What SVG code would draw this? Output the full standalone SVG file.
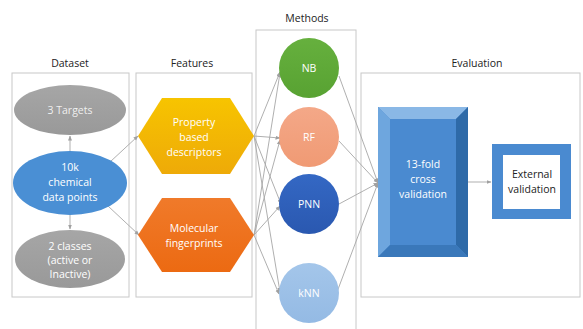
<svg xmlns="http://www.w3.org/2000/svg" width="583" height="329" viewBox="0 0 583 329">
<style>
.panel{fill:#fff;stroke:#c8c8c8;stroke-width:1}
.title{font-family:"Open Sans","Liberation Sans",sans-serif;font-size:10.5px;fill:#222;text-anchor:middle}
.lbl{font-family:"Open Sans","Liberation Sans",sans-serif;font-size:10.5px;fill:#fff;text-anchor:middle}
.lbld{font-family:"Open Sans","Liberation Sans",sans-serif;font-size:10.5px;fill:#222;text-anchor:middle}
.c{stroke:#a6a6a6;stroke-width:0.9;fill:none;marker-end:url(#ah)}
</style>
<defs>
<marker id="ah" viewBox="0 0 10 10" refX="9" refY="5" markerWidth="5" markerHeight="5" orient="auto" markerUnits="userSpaceOnUse">
<path d="M0,1 L10,5 L0,9 z" fill="#a0a0a0"/>
</marker>
<linearGradient id="gy" x1="0" y1="0" x2="0" y2="1"><stop offset="0" stop-color="#f7c400"/><stop offset="1" stop-color="#eeaa08"/></linearGradient>
<linearGradient id="go" x1="0" y1="0" x2="0" y2="1"><stop offset="0" stop-color="#f07a2a"/><stop offset="1" stop-color="#ec6a12"/></linearGradient>
<linearGradient id="gg" x1="0" y1="0" x2="0" y2="1"><stop offset="0" stop-color="#66b03e"/><stop offset="1" stop-color="#58a232"/></linearGradient>
<linearGradient id="gr" x1="0" y1="0" x2="0" y2="1"><stop offset="0" stop-color="#f4a888"/><stop offset="1" stop-color="#f09a74"/></linearGradient>
<linearGradient id="gp" x1="0" y1="0" x2="0" y2="1"><stop offset="0" stop-color="#3468c4"/><stop offset="1" stop-color="#2a58b0"/></linearGradient>
<linearGradient id="gk" x1="0" y1="0" x2="0" y2="1"><stop offset="0" stop-color="#a4c6ea"/><stop offset="1" stop-color="#94bae4"/></linearGradient>
<linearGradient id="ggr" x1="0" y1="0" x2="0" y2="1"><stop offset="0" stop-color="#a6a6a6"/><stop offset="1" stop-color="#999"/></linearGradient>
</defs>

<g id="panels">
<rect class="panel" x="12" y="73" width="117" height="224"/>
<rect class="panel" x="136" y="73" width="116" height="224"/>
<rect class="panel" x="256" y="30" width="100" height="305"/>
<rect class="panel" x="361" y="73" width="219" height="224"/>
<text class="title" x="70" y="67">Dataset</text>
<text class="title" x="192" y="67">Features</text>
<text class="title" x="307" y="22">Methods</text>
<text class="title" x="477" y="67">Evaluation</text>
</g>

<g id="connectors">
<line class="c" x1="70" y1="151" x2="70" y2="136"/>
<line class="c" x1="70" y1="215" x2="70" y2="229"/>
<line class="c" x1="110" y1="162" x2="138" y2="136"/>
<line class="c" x1="108" y1="206" x2="139" y2="235"/>
<line class="c" x1="254" y1="136" x2="280" y2="72"/>
<line class="c" x1="254" y1="136" x2="280" y2="138"/>
<line class="c" x1="254" y1="136" x2="281" y2="204"/>
<line class="c" x1="254" y1="136" x2="280" y2="292"/>
<line class="c" x1="254" y1="235" x2="280" y2="73"/>
<line class="c" x1="254" y1="235" x2="280" y2="140"/>
<line class="c" x1="254" y1="235" x2="280" y2="206"/>
<line class="c" x1="254" y1="235" x2="279" y2="294"/>
<line class="c" x1="339" y1="76" x2="378" y2="183"/>
<line class="c" x1="339" y1="141" x2="378" y2="183"/>
<line class="c" x1="339" y1="204" x2="378" y2="183"/>
<line class="c" x1="337" y1="292" x2="378" y2="183"/>
<line class="c" x1="468" y1="182" x2="491" y2="182"/>
</g>

<g id="targets">
<ellipse cx="70" cy="110" rx="56" ry="25" fill="url(#ggr)"/>
<text class="lbl" x="70" y="114" fill-opacity="0.85">3 Targets</text>
</g>
<g id="datapoints">
<ellipse cx="70" cy="183" rx="57" ry="32" fill="#4a8fd4"/>
<text class="lbl" x="70" y="171">10k</text>
<text class="lbl" x="70" y="186">chemical</text>
<text class="lbl" x="70" y="201">data points</text>
</g>
<g id="classes">
<ellipse cx="70" cy="259" rx="55" ry="29" fill="url(#ggr)"/>
<text class="lbl" x="70" y="250">2 classes</text>
<text class="lbl" x="70" y="264">(active or</text>
<text class="lbl" x="70" y="278">Inactive)</text>
</g>

<g id="property">
<polygon points="138,136 162,98 230,98 254,136 230,174 162,174" fill="url(#gy)"/>
<text class="lbl" x="194" y="126">Property</text>
<text class="lbl" x="194" y="141">based</text>
<text class="lbl" x="194" y="156">descriptors</text>
</g>
<g id="molecular">
<polygon points="138,235 162,198 230,198 254,235 230,272 162,272" fill="url(#go)"/>
<text class="lbl" x="194" y="232">Molecular</text>
<text class="lbl" x="194" y="247">fingerprints</text>
</g>

<g id="nb">
<circle cx="309" cy="68" r="30" fill="url(#gg)"/>
<text class="lbl" x="309" y="72">NB</text>
</g>
<g id="rf">
<circle cx="309" cy="137" r="30" fill="url(#gr)"/>
<text class="lbl" x="309" y="141">RF</text>
</g>
<g id="pnn">
<circle cx="309" cy="204" r="30" fill="url(#gp)"/>
<text class="lbl" x="309" y="208">PNN</text>
</g>
<g id="knn">
<circle cx="309" cy="293" r="30" fill="url(#gk)"/>
<text class="lbl" x="309" y="297">kNN</text>
</g>

<g id="crossval">
<rect x="378" y="107" width="90" height="150" fill="#4a8ad0"/>
<polygon points="378,107 468,107 456,119 390,119" fill="#8ab8e6"/>
<polygon points="378,107 390,119 390,245 378,257" fill="#6ea6de"/>
<polygon points="468,107 468,257 456,245 456,119" fill="#2e6aa8"/>
<polygon points="378,257 390,245 456,245 468,257" fill="#3a78ba"/>
<text class="lbl" x="423" y="168">13-fold</text>
<text class="lbl" x="423" y="183">cross</text>
<text class="lbl" x="423" y="198">validation</text>
</g>

<g id="external">
<rect x="492" y="144" width="79" height="75" fill="#4a8ad0"/>
<rect x="503" y="155" width="57" height="54" fill="#fff"/>
<text class="lbld" x="532" y="178">External</text>
<text class="lbld" x="532" y="193">validation</text>
</g>
</svg>
